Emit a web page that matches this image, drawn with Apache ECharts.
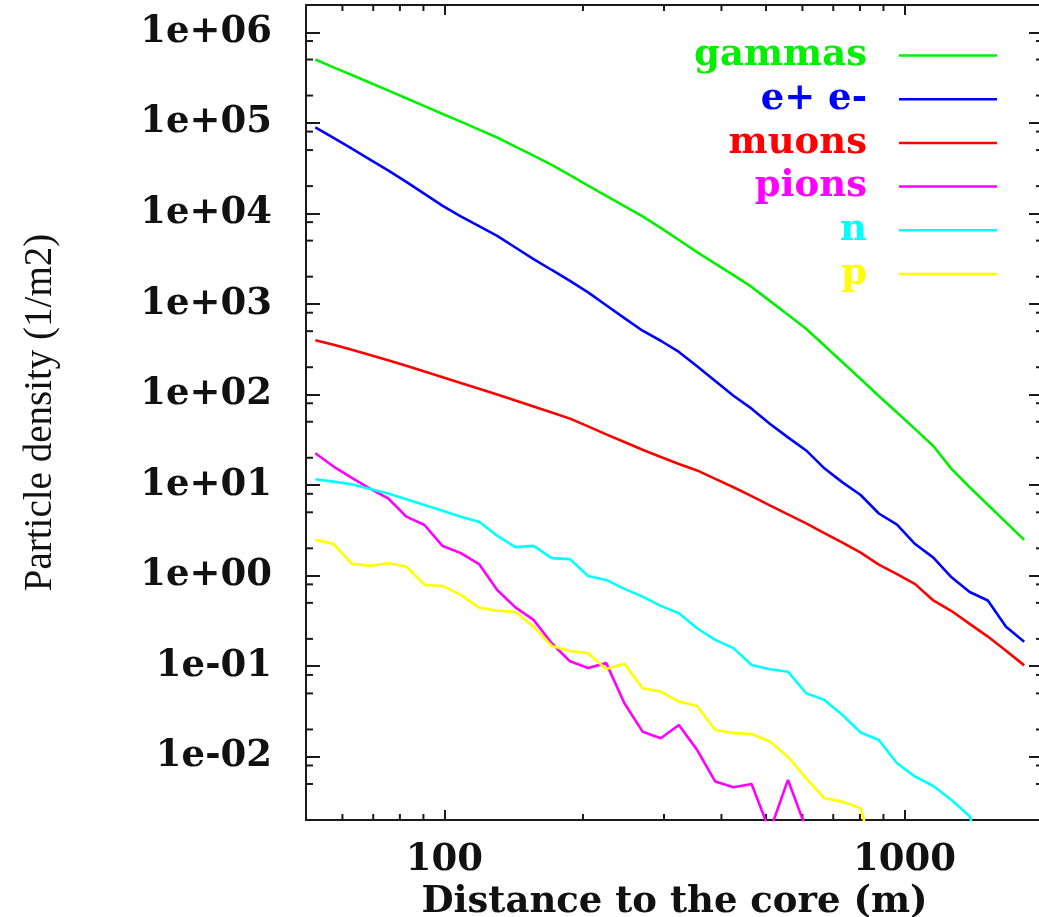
<!DOCTYPE html>
<html>
<head>
<meta charset="utf-8">
<script src="https://cdn.jsdelivr.net/npm/echarts@6/dist/echarts.min.js"></script>
<style>
  html, body { margin: 0; padding: 0; background: #ffffff; }
  #chart { width: 1039px; height: 917px; }
</style>
</head>
<body>
<div id="chart"></div>
<script>
// ---- data ----
const distances = [52.4, 57.4, 62.9, 68.9, 75.4, 82.6, 90.5, 99.1, 108.5, 118.9,
  130.2, 142.6, 156.2, 171.1, 187.4, 205.2, 224.7, 246.1, 269.6, 295.2,
  323.3, 354.1, 387.8, 424.8, 465.2, 509.5, 558.0, 611.2, 669.4, 733.1,
  802.9, 879.4, 963.1, 1054.6, 1155.2, 1265.2, 1385.6, 1517.6, 1662.0, 1820.3];

const gammas = [5.0e5, 4.1e5, 3.37e5, 2.77e5, 2.28e5, 1.87e5, 1.53e5, 1.25e5, 1.03e5, 8.41e4,
  6.89e4, 5.47e4, 4.35e4, 3.43e4, 2.64e4, 2.03e4, 1.56e4, 1.2e4, 9250, 6920,
  5080, 3740, 2790, 2080, 1540, 1080, 759, 533, 348, 227,
  148, 96.4, 63.2, 41.4, 27.0, 15.1, 9.46, 6.05, 3.87, 2.48];

const electrons = [89100, 68100, 51800, 39300, 29900, 22300, 16400, 12100, 9270, 7240,
  5650, 4200, 3130, 2370, 1800, 1340, 966, 698, 506, 392,
  295, 205, 141, 96.8, 69.7, 47.5, 33.6, 24.1, 15.3, 10.7,
  7.76, 4.85, 3.66, 2.23, 1.58, 0.957, 0.659, 0.531, 0.272, 0.186];

const muons = [398, 355, 311, 273, 239, 208, 179, 155, 134, 116,
  100, 85.9, 73.8, 63.2, 54.1, 44.4, 36.3, 29.9, 24.5, 20.4,
  17.1, 14.5, 11.7, 9.46, 7.53, 5.97, 4.74, 3.77, 2.94, 2.31,
  1.79, 1.32, 1.04, 0.805, 0.532, 0.406, 0.293, 0.212, 0.148, 0.102];

const pions = [22.4, 16.0, 12.0, 9.14, 7.14, 4.48, 3.62, 2.12, 1.77, 1.34,
  0.693, 0.445, 0.324, 0.179, 0.113, 0.0955, 0.108, 0.039, 0.0189, 0.016,
  0.0224, 0.0119, 0.00531, 0.0046, 0.005, 0.0015, 0.00555, 0.0016, null, null,
  null, null, null, null, null, null, null, null, null, null];

const neutrons = [11.6, 10.9, 10.2, 9.04, 8.05, 6.97, 6.03, 5.21, 4.46, 3.94,
  2.76, 2.06, 2.13, 1.56, 1.52, 0.991, 0.895, 0.713, 0.586, 0.463,
  0.384, 0.262, 0.195, 0.158, 0.103, 0.0925, 0.0869, 0.0502, 0.0424, 0.0289,
  0.0185, 0.0153, 0.00847, 0.00603, 0.00475, 0.00333, 0.0022, 0.0005, null, null];

const protons = [2.48, 2.24, 1.35, 1.28, 1.37, 1.26, 0.789, 0.769, 0.612, 0.443,
  0.41, 0.397, 0.273, 0.167, 0.147, 0.139, 0.0931, 0.106, 0.057, 0.0524,
  0.0406, 0.0363, 0.0197, 0.0182, 0.0178, 0.0147, 0.01, 0.00578, 0.00348, 0.00319,
  0.0027, 0.0005, null, null, null, null, null, null, null, null];

const seriesNames = ['gammas', 'e+ e-', 'muons', 'pions', 'n', 'p'];
const seriesValues = [gammas, electrons, muons, pions, neutrons, protons];
const seriesColors = ['#00f000', '#0000ff', '#ff0000', '#ff00ff', '#00ffff', '#ffff00'];

const xRange = [50, 2000];
const yRange = [0.002, 2e6];
const xMinorTicks = [60, 70, 80, 90, 200, 300, 400, 500, 600, 700, 800, 900];
const yMinorTicks = [0.005, 0.008, 0.02, 0.05, 0.08, 0.2, 0.5, 0.8, 2, 5, 8, 20, 50, 80,
  200, 500, 800, 2000, 5000, 8000, 2e4, 5e4, 8e4, 2e5, 5e5, 8e5];

const xTitle = 'Distance to the core (m)';
const yTitle = 'Particle density (1/m2)';

// ---- chart ----
const AXIS_COLOR = '#1a1a1a';
const LABEL_FONT = 'DejaVu Serif';

function expLabel(v) {
  const e = Math.round(Math.log10(v));
  return '1e' + (e < 0 ? '-' : '+') + String(Math.abs(e)).padStart(2, '0');
}

function baseAxis(extra) {
  return Object.assign({
    type: 'log',
    logBase: 10,
    splitLine: { show: false },
    minorTick: { show: false },
    minorSplitLine: { show: false },
    axisLine: { show: true, onZero: false, lineStyle: { color: AXIS_COLOR, width: 2 } },
  }, extra);
}

const lineSeries = seriesNames.map((name, k) => ({
  name: name,
  type: 'line',
  xAxisIndex: 0,
  yAxisIndex: 0,
  symbol: 'none',
  showSymbol: false,
  clip: true,
  lineStyle: { color: seriesColors[k], width: 2.6 },
  itemStyle: { color: seriesColors[k] },
  data: distances.map((d, i) => [d, seriesValues[k][i]]).filter(p => p[1] !== null),
  z: 3
}));

const minorX = {
  type: 'custom',
  name: 'minorX',
  xAxisIndex: 0,
  yAxisIndex: 0,
  silent: true,
  clip: false,
  data: xMinorTicks.map(v => [v, yRange[0]]),
  encode: { x: 0, y: 1 },
  renderItem: function (params, api) {
    const v = api.value(0);
    const b = api.coord([v, yRange[0]]);
    const t = api.coord([v, yRange[1]]);
    const st = { stroke: AXIS_COLOR, lineWidth: 2 };
    return {
      type: 'group', children: [
        { type: 'line', shape: { x1: b[0], y1: b[1], x2: b[0], y2: b[1] - 6 }, style: st },
        { type: 'line', shape: { x1: t[0], y1: t[1], x2: t[0], y2: t[1] + 6 }, style: st }
      ]
    };
  },
  z: 2
};

const minorY = {
  type: 'custom',
  name: 'minorY',
  xAxisIndex: 0,
  yAxisIndex: 0,
  silent: true,
  clip: false,
  data: yMinorTicks.map(v => [xRange[0], v]),
  encode: { x: 0, y: 1 },
  renderItem: function (params, api) {
    const v = api.value(1);
    const l = api.coord([xRange[0], v]);
    const r = api.coord([xRange[1], v]);
    const st = { stroke: AXIS_COLOR, lineWidth: 2 };
    return {
      type: 'group', children: [
        { type: 'line', shape: { x1: l[0], y1: l[1], x2: l[0] + 7, y2: l[1] }, style: st },
        { type: 'line', shape: { x1: r[0], y1: r[1], x2: r[0] - 7, y2: r[1] }, style: st }
      ]
    };
  },
  z: 2
};

const chart = echarts.init(document.getElementById('chart'), null, { renderer: 'canvas' });
chart.setOption({
  animation: false,
  backgroundColor: '#ffffff',
  grid: { left: 306, right: -4, top: 5, bottom: 97, containLabel: false, outerBoundsMode: 'none' },
  legend: {
    orient: 'vertical',
    align: 'right',
    right: 42,
    top: 37,
    padding: 0,
    itemGap: 6.7,
    itemWidth: 98,
    itemHeight: 2.5,
    icon: 'rect',
    selectedMode: false,
    textStyle: {
      fontFamily: LABEL_FONT, fontWeight: 'bold', fontSize: 37, lineHeight: 30,
      padding: [0, 27, 0, 0]
    },
    data: seriesNames.map((n, k) => ({ name: n, textStyle: { color: seriesColors[k] } }))
  },
  xAxis: [
    baseAxis({
      position: 'bottom',
      min: xRange[0], max: xRange[1],
      axisTick: { show: true, inside: true, length: 10, lineStyle: { color: AXIS_COLOR, width: 2 } },
      axisLabel: {
        show: true, showMinLabel: false, showMaxLabel: false, interval: 0,
        margin: 22, color: '#111', fontFamily: LABEL_FONT, fontWeight: 'bold', fontSize: 37, lineHeight: 36,
        formatter: v => String(Math.round(v))
      },
      name: xTitle,
      nameLocation: 'middle',
      nameGap: 59,
      nameTextStyle: { color: '#111', fontFamily: LABEL_FONT, fontWeight: 'bold', fontSize: 37, lineHeight: 37 }
    }),
    baseAxis({
      position: 'top',
      min: xRange[0], max: xRange[1],
      axisTick: { show: true, inside: true, length: 10, lineStyle: { color: AXIS_COLOR, width: 2 } },
      axisLabel: { show: false }
    })
  ],
  yAxis: [
    baseAxis({
      position: 'left',
      min: yRange[0], max: yRange[1],
      splitNumber: 10,
      axisTick: { show: true, inside: true, length: 14, lineStyle: { color: AXIS_COLOR, width: 2 } },
      axisLabel: {
        show: true, showMinLabel: false, showMaxLabel: false, interval: 0,
        margin: 34, color: '#111', fontFamily: LABEL_FONT, fontWeight: 'bold', fontSize: 37,
        formatter: expLabel
      },
      name: yTitle,
      nameLocation: 'middle',
      nameGap: 246,
      nameTextStyle: { color: '#111', fontFamily: 'Liberation Serif', fontWeight: 'normal', fontSize: 39, lineHeight: 39 }
    }),
    baseAxis({
      position: 'right',
      min: yRange[0], max: yRange[1],
      splitNumber: 10,
      axisTick: { show: true, inside: true, length: 14, lineStyle: { color: AXIS_COLOR, width: 2 } },
      axisLabel: { show: false }
    })
  ],
  series: lineSeries.concat([minorX, minorY])
});
</script>
</body>
</html>
